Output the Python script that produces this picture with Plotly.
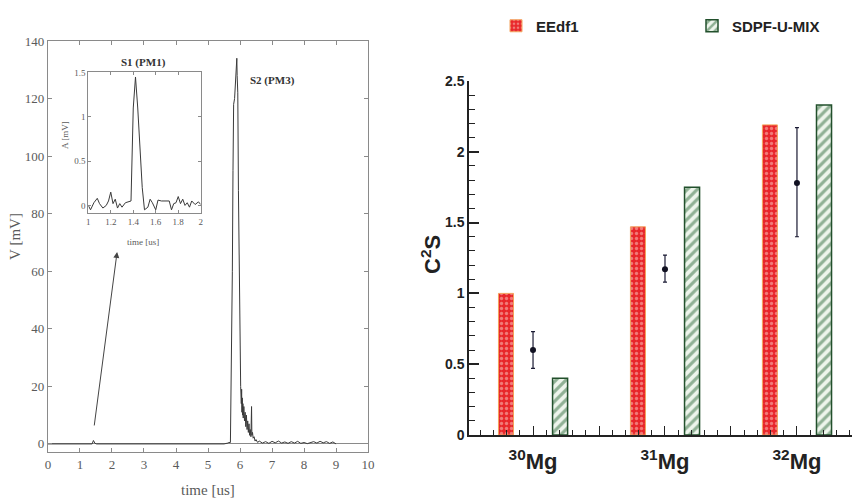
import plotly.graph_objects as go

# ---------------- left panel: waveform ----------------
t_main = [0.0, 0.5, 1.0, 1.38, 1.42, 1.44, 1.47, 1.52, 2.0, 3.0, 4.0, 5.0, 5.5, 5.62, 5.65, 5.70,
          5.71, 5.73, 5.76, 5.78, 5.80, 5.83, 5.86, 5.88, 5.90, 5.91, 5.93, 5.95, 5.97, 6.00,
          6.02, 6.04, 6.05, 6.06, 6.07, 6.08, 6.09, 6.10, 6.12, 6.14, 6.16, 6.18, 6.20, 6.22,
          6.24, 6.26, 6.28, 6.30, 6.32, 6.34, 6.36, 6.37, 6.39, 6.41, 6.44, 6.47, 6.50, 6.55,
          6.6, 6.7, 6.8, 6.9, 7.0, 7.1, 7.2, 7.3, 7.4, 7.5, 7.6, 7.7, 7.8, 7.9, 8.0, 8.1,
          8.3, 8.4, 8.5, 8.6, 8.7, 8.8, 8.9, 9.0]
v_main = [0, 0, 0, 0, 1.2, 0.5, 0.2, 0, 0, 0, 0, 0, 0, 0.3, 0.5, 0.5,
          12, 12.5, 60, 95, 118, 120, 125, 132, 134, 128, 122, 88, 60, 28,
          20, 14, 19, 11, 16, 10, 14, 9, 13, 8, 11, 6, 10, 5,
          8, 4, 7, 3, 5, 2.5, 13, 3, 4, 2, 2.5, 1, 1.5, 0.5,
          1.0, 0.3, 0.8, 0.2, 0.9, 0.4, 1.0, 0.3, 0.7, 0.2, 0.8, 0.3, 0.9, 0.2, 0.5, 0.1,
          0.8, 0.3, 0.9, 0.4, 0.8, 0.2, 0.7, 0]

t_inset = [1.0, 1.02, 1.05, 1.08, 1.10, 1.13, 1.16, 1.18, 1.20, 1.22, 1.24, 1.26, 1.28, 1.30,
           1.33, 1.36, 1.38, 1.40, 1.42, 1.44, 1.46, 1.48, 1.50, 1.53, 1.55, 1.57, 1.60, 1.62,
           1.65, 1.68, 1.70, 1.72, 1.74, 1.76, 1.78, 1.80, 1.82, 1.84, 1.86, 1.88, 1.90, 1.92,
           1.95, 1.98, 2.0]
v_inset = [0.0, -0.05, 0.03, 0.08, 0.02, -0.03, 0.0, 0.05, 0.15, 0.02, 0.07, -0.03, 0.02, -0.02,
           0.03, 0.04, 0.05, 1.1, 1.45, 1.1, 0.6, 0.2, -0.05, -0.02, 0.07, 0.03, -0.05, 0.06,
           0.05, 0.05, 0.05, 0.05, -0.05, 0.02, 0.03, 0.1, 0.02, 0.07, 0.0, 0.03, -0.02, 0.05,
           0.01, 0.04, 0.01]

left_xticks = list(range(0, 11))
left_yticks = [0, 20, 40, 60, 80, 100, 120, 140]
inset_xticks = [1, 1.2, 1.4, 1.6, 1.8, 2]
inset_xticklabels = ["1", "1.2", "1.4", "1.6", "1.8", "2"]
inset_yticks = [0, 0.5, 1, 1.5]

# arrow from S1 pulse to the inset (data coordinates)
arrow_tail = (1.44, 5.9)
arrow_head = (2.16, 66.7)

# ---------------- right panel: C2S bars ----------------
nuclei = ["<sup>30</sup>Mg", "<sup>31</sup>Mg", "<sup>32</sup>Mg"]
idx = [0, 1, 2]
eedf1 = [1.00, 1.47, 2.19]
sdpf = [0.40, 1.75, 2.33]
exp_val = [0.60, 1.17, 1.78]
exp_up = [0.13, 0.10, 0.39]
exp_dn = [0.13, 0.09, 0.38]

right_xrange = [-0.485, 2.417]
right_yrange = [0, 2.5]
major_x = [0, 0.5, 1, 1.5, 2]
major_x_text = [nuclei[0], "", nuclei[1], "", nuclei[2]]
minor_x = [round(-0.4 + 0.1 * i, 2) for i in range(29)]
major_y = [0, 0.5, 1, 1.5, 2, 2.5]
minor_y = [round(0.1 * i, 2) for i in range(26)]

serif = "Liberation Serif, Times New Roman, serif"
sans = "Liberation Sans, Arial, sans-serif"
gray = "#5a5a5a"
framec = "#8a8a8a"
ink = "#222222"

fig = go.Figure()

fig.add_trace(go.Scatter(x=t_main, y=v_main, mode="lines", xaxis="x", yaxis="y",
                         line=dict(color="#3a3a3a", width=1), showlegend=False))
fig.add_trace(go.Scatter(x=t_inset, y=v_inset, mode="lines", xaxis="x2", yaxis="y2",
                         line=dict(color="#3a3a3a", width=1), showlegend=False))

bar_w = 0.114
fig.add_trace(go.Bar(x=idx, y=eedf1, name="EEdf1", xaxis="x3", yaxis="y3", legend="legend",
                     width=bar_w, offset=-0.205 - bar_w / 2,
                     marker=dict(color="#e8262a",
                                 line=dict(color="#f3a25c", width=1),
                                 pattern=dict(shape=".", bgcolor="#e8262a", fgcolor="#f9cfc6",
                                              size=5, solidity=0.35))))
fig.add_trace(go.Bar(x=idx, y=sdpf, name="SDPF-U-MIX", xaxis="x3", yaxis="y3", legend="legend2",
                     width=bar_w, offset=0.205 - bar_w / 2,
                     marker=dict(color="#eef5ec",
                                 line=dict(color="#22502c", width=1.5),
                                 pattern=dict(shape="/", bgcolor="#eef5ec", fgcolor="#2f6b3b",
                                              size=7, solidity=0.45))))
fig.add_trace(go.Scatter(x=idx, y=exp_val, mode="markers", xaxis="x3", yaxis="y3",
                         marker=dict(color="#111122", size=6),
                         error_y=dict(type="data", symmetric=False, array=exp_up, arrayminus=exp_dn,
                                      color="#1a1a33", thickness=1.2, width=2),
                         showlegend=False))
# empty traces that carry the minor-tick overlay axes
fig.add_trace(go.Scatter(x=[None], y=[None], xaxis="x4", yaxis="y3", showlegend=False,
                         hoverinfo="skip"))
fig.add_trace(go.Scatter(x=[None], y=[None], xaxis="x3", yaxis="y4", showlegend=False,
                         hoverinfo="skip"))

left_axis_common = dict(showline=True, linecolor=framec, linewidth=1, mirror="ticks",
                        ticks="inside", ticklen=4, tickcolor=framec, showgrid=False,
                        tickfont=dict(family=serif, size=13, color=gray))

legend_common = dict(orientation="h", xanchor="left", yanchor="middle", bgcolor="rgba(0,0,0,0)",
                     font=dict(family=sans, size=15, color=ink, weight="bold"))

fig.update_layout(
    width=852, height=503,
    margin=dict(l=0, r=0, t=0, b=0, autoexpand=False),
    paper_bgcolor="white", plot_bgcolor="white",
    barmode="overlay",
    xaxis=dict(domain=[0.0563, 0.432], range=[0, 10], anchor="y", tickvals=left_xticks,
               zeroline=False, **left_axis_common),
    yaxis=dict(domain=[0.1014, 0.9185], range=[-2.8, 140], anchor="x", tickvals=left_yticks,
               zeroline=True, zerolinecolor=framec, zerolinewidth=1, **left_axis_common),
    xaxis2=dict(domain=[0.1036, 0.2356], range=[1, 2], anchor="y2", tickvals=inset_xticks,
                ticktext=inset_xticklabels, showline=True, linecolor=framec, mirror="ticks",
                ticks="inside", ticklen=3, tickcolor=framec, showgrid=False, zeroline=False,
                tickfont=dict(family=serif, size=9, color=gray)),
    yaxis2=dict(domain=[0.5765, 0.8575], range=[-0.086, 1.51], anchor="x2", tickvals=inset_yticks,
                showline=True, linecolor=framec, mirror="ticks", ticks="inside", ticklen=3,
                tickcolor=framec, showgrid=False, zeroline=False,
                tickfont=dict(family=serif, size=9, color=gray)),
    xaxis3=dict(domain=[0.5505, 1.0], range=right_xrange, anchor="y3",
                tickvals=major_x, ticktext=major_x_text,
                showline=True, linecolor=ink, linewidth=1.5, ticks="inside", ticklen=9,
                tickcolor=ink, tickwidth=1.2, showgrid=False, zeroline=False,
                ticklabelstandoff=6,
                tickfont=dict(family=sans, size=22, color=ink, weight="bold")),
    yaxis3=dict(domain=[0.1352, 0.839], range=right_yrange, anchor="x3",
                tickvals=major_y, ticktext=["0", "0.5", "1", "1.5", "2", "2.5"],
                showline=True, linecolor=ink, linewidth=1.5, ticks="inside", ticklen=10,
                tickcolor=ink, tickwidth=1.5, showgrid=False, zeroline=False,
                tickfont=dict(family=sans, size=14, color=ink, weight="bold")),
    xaxis4=dict(overlaying="x3", range=right_xrange, anchor="y3", tickvals=minor_x,
                showticklabels=False, ticks="inside", ticklen=5, tickcolor=ink, tickwidth=1,
                showline=False, showgrid=False, zeroline=False),
    yaxis4=dict(overlaying="y3", range=right_yrange, anchor="x3", side="left", tickvals=minor_y,
                showticklabels=False, ticks="inside", ticklen=6, tickcolor=ink, tickwidth=1.2,
                showline=False, showgrid=False, zeroline=False),
    legend=dict(x=496 / 852, y=(503 - 26) / 503, **legend_common),
    legend2=dict(x=692 / 852, y=(503 - 26) / 503, **legend_common),
)

ann = [
    dict(text="V [mV]", x=15 / 852, y=0.529, textangle=-90,
         font=dict(family=serif, size=15, color=gray)),
    dict(text="time [us]", x=208 / 852, y=0.026,
         font=dict(family=serif, size=15, color=gray)),
    dict(text="<b>S1 (PM1)</b>", x=143 / 852, y=(503 - 62) / 503,
         font=dict(family=serif, size=11, color="#333333")),
    dict(text="<b>S2 (PM3)</b>", x=248 / 852, y=(503 - 80) / 503, xanchor="left",
         font=dict(family=serif, size=11, color="#333333")),
    dict(text="time [us]", x=143 / 852, y=(503 - 242) / 503,
         font=dict(family=serif, size=9, color=gray)),
    dict(text="A [mV]", x=65 / 852, y=(503 - 135) / 503, textangle=-90,
         font=dict(family=serif, size=9, color=gray)),
    dict(text="<b>C<sup>2</sup>S</b>", x=431 / 852, y=(503 - 255) / 503, textangle=-90,
         font=dict(family=sans, size=22, color=ink)),
]
for a in ann:
    a.setdefault("xanchor", "center")
    fig.add_annotation(xref="paper", yref="paper", showarrow=False, yanchor="middle", **a)

fig.add_annotation(x=arrow_head[0], y=arrow_head[1], ax=arrow_tail[0], ay=arrow_tail[1],
                   xref="x", yref="y", axref="x", ayref="y", showarrow=True, text="",
                   arrowhead=2, arrowsize=1.2, arrowwidth=1, arrowcolor="#444444")

fig.write_html("out.html")
